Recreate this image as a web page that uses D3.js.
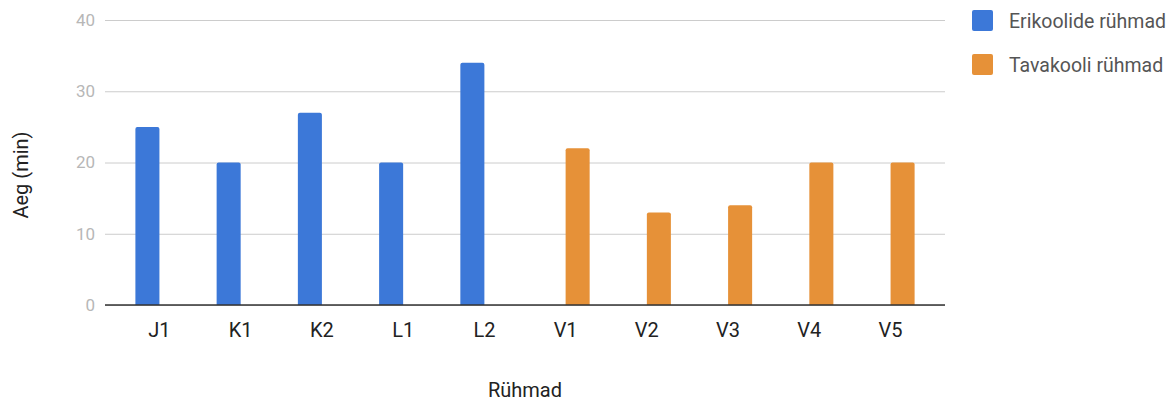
<!DOCTYPE html>
<html>
<head>
<meta charset="utf-8">
<script src="https://cdn.jsdelivr.net/npm/d3@7"></script>
<style>
  html, body { margin: 0; padding: 0; background: #fff; }
  svg { display: block; font-family: Roboto, "Noto Sans", sans-serif; }
</style>
</head>
<body>
<svg id="chart" width="1173" height="401"></svg>
<script>
// Group names along the x axis
const categories = ["J1", "K1", "K2", "L1", "L2", "V1", "V2", "V3", "V4", "V5"];
// Series shown side by side in each group
const seriesNames = ["Erikoolide rühmad", "Tavakooli rühmad"];
const seriesColors = ["#3c78d8", "#e69138"];
// Minutes per group (null where the group is not in that series)
const erikoolideValues = [25, 20, 27, 20, 34, null, null, null, null, null];
const tavakooliValues = [null, null, null, null, null, 22, 13, 14, 20, 20];
const yTicks = [0, 10, 20, 30, 40];
const yTitle = "Aeg (min)";
const xTitle = "Rühmad";

const seriesValues = [erikoolideValues, tavakooliValues];

const svg = d3.select("#chart");
const plot = { left: 105, right: 945, top: 20, bottom: 305 };

const x0 = d3.scaleBand()
  .domain(categories)
  .range([plot.left, plot.right])
  .paddingInner(0)
  .paddingOuter(0.17);

const x1 = d3.scaleBand()
  .domain(seriesNames)
  .range([0, x0.bandwidth()])
  .paddingInner(0)
  .paddingOuter(0.69);

const y = d3.scaleLinear()
  .domain([0, 40])
  .range([plot.bottom, plot.top]);

// Horizontal gridlines and value labels
const yAxis = d3.axisLeft(y)
  .tickValues(yTicks)
  .tickSize(-(plot.right - plot.left))
  .tickPadding(10);

const gy = svg.append("g")
  .attr("transform", `translate(${plot.left},0)`)
  .call(yAxis);
gy.select(".domain").remove();
gy.selectAll(".tick line").attr("stroke", "#cccccc").attr("stroke-width", 1);
gy.selectAll(".tick text")
  .attr("fill", "#b7b7b7")
  .attr("font-size", 17)
  .attr("font-family", "Roboto, sans-serif");

// Bars: one per group/series pair that has a value
const barData = [];
categories.forEach((c, i) => {
  seriesNames.forEach((s, j) => {
    const v = seriesValues[j][i];
    if (v != null) barData.push({ cat: c, series: s, value: v, color: seriesColors[j] });
  });
});

const r = 2;
svg.append("g").selectAll("path")
  .data(barData)
  .join("path")
  .attr("fill", d => d.color)
  .attr("d", d => {
    const bx = x0(d.cat) + x1(d.series);
    const bw = x1.bandwidth();
    const top = y(d.value);
    const bot = y(0);
    return `M${bx},${bot}V${top + r}Q${bx},${top} ${bx + r},${top}` +
           `H${bx + bw - r}Q${bx + bw},${top} ${bx + bw},${top + r}V${bot}Z`;
  });

// Baseline
svg.append("line")
  .attr("x1", plot.left).attr("x2", plot.right)
  .attr("y1", y(0)).attr("y2", y(0))
  .attr("stroke", "#333333").attr("stroke-width", 1.5);

// Category labels
const xAxis = d3.axisBottom(x0).tickSize(0).tickPadding(18);
const gx = svg.append("g")
  .attr("transform", `translate(0,${plot.bottom})`)
  .call(xAxis);
gx.select(".domain").remove();
gx.selectAll(".tick text")
  .attr("fill", "#222222")
  .attr("font-size", 20)
  .attr("font-family", "Roboto, sans-serif");

// Axis titles
svg.append("text")
  .attr("x", (plot.left + plot.right) / 2)
  .attr("y", 397)
  .attr("text-anchor", "middle")
  .attr("fill", "#222222")
  .attr("font-size", 20)
  .text(xTitle);

svg.append("text")
  .attr("transform", `translate(28,175) rotate(-90)`)
  .attr("text-anchor", "middle")
  .attr("fill", "#222222")
  .attr("font-size", 20)
  .text(yTitle);

// Legend
const legend = svg.append("g").attr("transform", "translate(972,10)");
const items = legend.selectAll("g")
  .data(seriesNames)
  .join("g")
  .attr("transform", (d, i) => `translate(0,${i * 44})`);
items.append("rect")
  .attr("width", 21).attr("height", 21)
  .attr("rx", 2)
  .attr("fill", (d, i) => seriesColors[i]);
items.append("text")
  .attr("x", 37)
  .attr("y", 18)
  .attr("fill", "#555555")
  .attr("font-size", 19.5)
  .text(d => d);
</script>
</body>
</html>
